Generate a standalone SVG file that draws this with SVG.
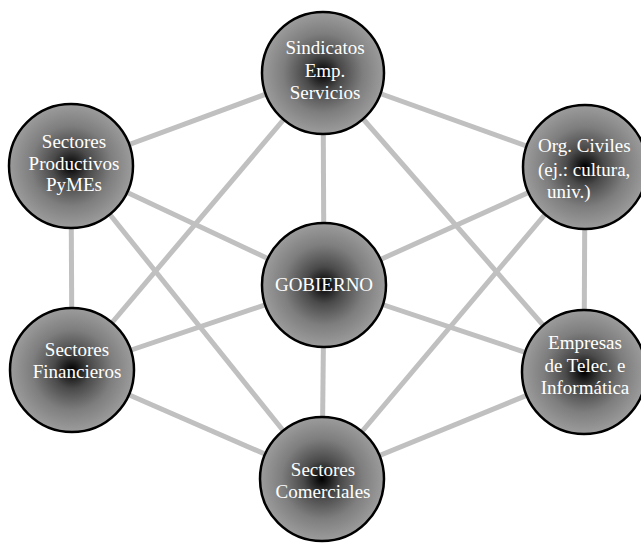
<svg xmlns="http://www.w3.org/2000/svg" width="641" height="547" viewBox="0 0 641 547">
<defs>
<radialGradient id="g" cx="50%" cy="50%" r="50%">
<stop offset="0" stop-color="#000"/>
<stop offset="0.3" stop-color="#4a4a4a"/>
<stop offset="0.65" stop-color="#7e7e7e"/>
<stop offset="1" stop-color="#9c9c9c"/>
</radialGradient>
<style>
.n circle{fill:url(#g);stroke:#000;stroke-width:2.5}
.n text{font-family:"Liberation Serif","Times New Roman",serif;font-size:19px;fill:#fff;text-anchor:middle}
#edges line{stroke:#c0c0c0;stroke-width:5}
</style>
</defs>
<rect width="641" height="547" fill="#fff"/>
<g id="edges">
<line x1="323" y1="73" x2="71" y2="166"/>
<line x1="323" y1="73" x2="585" y2="167"/>
<line x1="323" y1="73" x2="324" y2="285"/>
<line x1="323" y1="73" x2="72" y2="370"/>
<line x1="323" y1="73" x2="584" y2="372"/>
<line x1="71" y1="166" x2="72" y2="370"/>
<line x1="71" y1="166" x2="324" y2="285"/>
<line x1="71" y1="166" x2="322" y2="479"/>
<line x1="585" y1="167" x2="324" y2="285"/>
<line x1="585" y1="167" x2="584" y2="372"/>
<line x1="585" y1="167" x2="322" y2="479"/>
<line x1="324" y1="285" x2="72" y2="370"/>
<line x1="324" y1="285" x2="584" y2="372"/>
<line x1="324" y1="285" x2="322" y2="479"/>
<line x1="72" y1="370" x2="322" y2="479"/>
<line x1="584" y1="372" x2="322" y2="479"/>
</g>
<g id="sindicatos" class="n"><circle cx="323" cy="73" r="61"/>
<text x="325" y="54">Sindicatos</text><text x="325" y="77">Emp.</text><text x="325" y="99">Servicios</text></g>
<g id="productivos" class="n"><circle cx="71" cy="166" r="62"/>
<text x="74" y="148">Sectores</text><text x="74" y="170">Productivos</text><text x="74" y="191">PyMEs</text></g>
<g id="civiles" class="n"><circle cx="585" cy="167" r="62"/>
<text x="538" y="152" style="text-anchor:start">Org. Civiles</text><text x="538" y="176" style="text-anchor:start">(ej.: cultura,</text><text x="547" y="198" style="text-anchor:start">univ.)</text></g>
<g id="gobierno" class="n"><circle cx="324" cy="285" r="62"/>
<text x="324" y="291">GOBIERNO</text></g>
<g id="financieros" class="n"><circle cx="72" cy="370" r="62"/>
<text x="77" y="356">Sectores</text><text x="77" y="378">Financieros</text></g>
<g id="empresas" class="n"><circle cx="584" cy="372" r="62"/>
<text x="585" y="349">Empresas</text><text x="585" y="372">de Telec. e</text><text x="585" y="394">Informática</text></g>
<g id="comerciales" class="n"><circle cx="322" cy="479" r="62"/>
<text x="323" y="476">Sectores</text><text x="323" y="498">Comerciales</text></g>
</svg>
